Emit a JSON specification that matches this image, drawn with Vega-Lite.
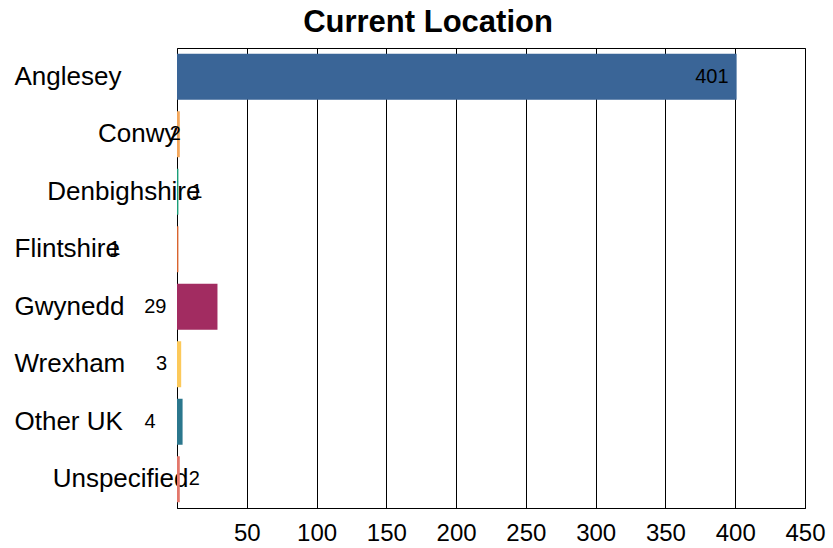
{
  "$schema": "https://vega.github.io/schema/vega-lite/v6.json",
  "autosize": {"type": "none"},
  "padding": {"left": 177, "top": 48, "right": 28, "bottom": 40},
  "width": 628,
  "height": 460,
  "background": "white",
  "title": {
    "text": "Current Location",
    "font": "Liberation Sans",
    "fontSize": 31,
    "fontWeight": "bold",
    "color": "black",
    "anchor": "middle",
    "frame": "group",
    "dx": -63,
    "offset": 9
  },
  "config": {
    "view": {"stroke": "black", "strokeWidth": 1},
    "font": "Liberation Sans"
  },
  "data": {
    "values": [
      {"location": "Anglesey", "count": 401},
      {"location": "Conwy", "count": 2},
      {"location": "Denbighshire", "count": 1},
      {"location": "Flintshire", "count": 1},
      {"location": "Gwynedd", "count": 29},
      {"location": "Wrexham", "count": 3},
      {"location": "Other UK", "count": 4},
      {"location": "Unspecified", "count": 2}
    ]
  },
  "encoding": {
    "y": {
      "field": "location",
      "type": "nominal",
      "sort": null,
      "scale": {"paddingInner": 0.2, "paddingOuter": 0.1},
      "axis": {
        "title": null,
        "ticks": false,
        "tickSize": 0,
        "labelFont": "Liberation Sans",
        "labelFontSize": 26,
        "labelColor": "black",
        "labelLimit": 400,
        "labelOverlap": false,
        "labelBound": false,
        "domainColor": "black",
        "domainWidth": 1,
        "labelAlign": {
          "condition": {"test": "indexof(['Conwy','Denbighshire','Unspecified'], datum.value) >= 0", "value": "right"},
          "value": "left"
        },
        "labelPadding": {
          "condition": [
            {"test": "datum.value === 'Conwy'", "value": 0},
            {"test": "datum.value === 'Denbighshire'", "value": -23},
            {"test": "datum.value === 'Unspecified'", "value": -11}
          ],
          "value": 163
        }
      }
    },
    "x": {
      "field": "count",
      "type": "quantitative",
      "scale": {"domain": [0, 450], "nice": false},
      "axis": {
        "title": null,
        "values": [50, 100, 150, 200, 250, 300, 350, 400, 450],
        "ticks": false,
        "grid": true,
        "gridColor": "black",
        "gridWidth": 1,
        "gridOpacity": 1,
        "labelFont": "Liberation Sans",
        "labelFontSize": 24,
        "labelColor": "black",
        "labelPadding": 13,
        "labelOverlap": false,
        "labelBound": false,
        "labelFlush": false,
        "domainColor": "black",
        "domainWidth": 1
      }
    }
  },
  "layer": [
    {
      "mark": {"type": "bar"},
      "encoding": {
        "color": {
          "field": "location",
          "type": "nominal",
          "legend": null,
          "scale": {
            "domain": ["Anglesey", "Conwy", "Denbighshire", "Flintshire", "Gwynedd", "Wrexham", "Other UK", "Unspecified"],
            "range": ["#3a6597", "#f4a85c", "#1a9e78", "#d8642e", "#a22c61", "#fcc95a", "#2b778d", "#e3776b"]
          }
        }
      }
    },
    {
      "mark": {
        "type": "text",
        "align": "right",
        "baseline": "middle",
        "font": "Liberation Sans",
        "fontSize": 20,
        "color": "black",
        "dx": {"expr": "[-8, 1, 24, -58, -51, -14, -27, 20][indexof(['Anglesey','Conwy','Denbighshire','Flintshire','Gwynedd','Wrexham','Other UK','Unspecified'], datum.location)]"}
      },
      "encoding": {
        "text": {"field": "count", "type": "quantitative"}
      }
    }
  ]
}
